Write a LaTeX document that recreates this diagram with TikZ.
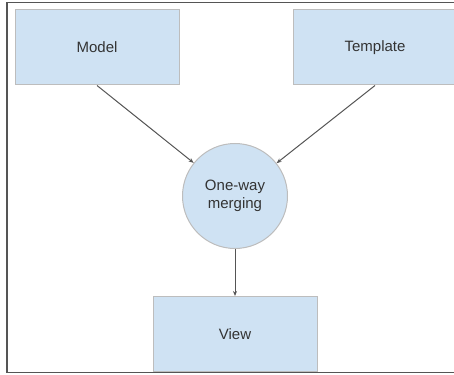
\documentclass[tikz,border=0pt]{standalone}
\usepackage{fontspec}
\setmainfont{Liberation Sans}
\usetikzlibrary{arrows.meta}

\definecolor{boxfill}{HTML}{CFE2F3}
\definecolor{boxline}{HTML}{BDBDBD}
\definecolor{linegray}{HTML}{555555}
\definecolor{textgray}{HTML}{333333}

\tikzset{
  block/.style={draw=boxline, fill=boxfill, line width=1pt, minimum width=164pt, minimum height=75pt, inner sep=0pt, text=textgray, font=\fontsize{15}{18}\selectfont},
  merger/.style={circle, draw=boxline, fill=boxfill, line width=1pt, minimum size=105pt, inner sep=0pt, align=center, text=textgray, font=\fontsize{15}{18}\selectfont},
  flow/.style={draw=linegray, line width=1pt, -{Stealth[length=5pt,width=4pt]}}
}

\begin{document}
\begin{tikzpicture}[x=1pt, y=-1pt]

   \useasboundingbox (0,0) rectangle (454,374);

   % 枠
   \draw [linegray, line width=1.2pt](454,2.5)--(7,2.5)--(7,372.5)--(454,372.5);

   % ボックス
   \node [block] (model) at (97,47.5) {Model};
   \node [block] (template) at (375,47.5) {Template};
   \node [merger] (merge) at (235,196) {One-way\\merging};
   \node [block] (view) at (235,334) {View};

   % 矢印
   \draw [flow](model.south)--(merge);
   \draw [flow](template.south)--(merge);
   \draw [flow](merge)--(view);

\end{tikzpicture}
\end{document}
